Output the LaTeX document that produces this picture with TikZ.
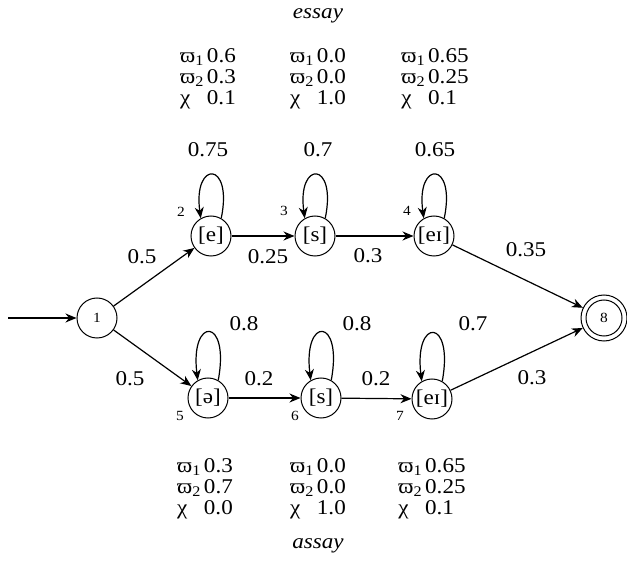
\documentclass[tikz,border=0pt]{standalone}
\usepackage{fontspec}
\setmainfont[FakeStretch=1.1]{Liberation Serif}
\usetikzlibrary{arrows.meta}
\begin{document}
\begin{tikzpicture}[x=1pt,y=-1pt,
  every node/.style={inner sep=0pt},
  st/.style={circle,draw,line width=1pt,minimum size=40pt,font=\fontsize{21}{22}\selectfont},
  lbl/.style={font=\fontsize{21}{22}\selectfont},
  num/.style={font=\fontsize{14}{15}\selectfont},
  edge/.style={line width=1.2pt,-{Stealth[length=11pt,width=9pt,inset=3.5pt]}},
  blk/.style={font=\fontsize{21}{21}\selectfont}
  ]
\useasboundingbox (0,0) rectangle (627,561);
% states
\node[st] (n1) at (97,318) {\fontsize{14}{15}\selectfont 1};
\node[st] (n2) at (211,236) {[e]};
\node[st] (n3) at (315,236) {[s]};
\node[st] (n4) at (434,236) {[eɪ]};
\node[st] (n5) at (208,398) {[ə]};
\node[st] (n6) at (321,398) {[s]};
\node[st] (n7) at (432,399) {[eɪ]};
\node[st,minimum size=46pt] (n8) at (604,318) {};
\node[circle,draw,line width=1pt,minimum size=36pt,num] (n8i) at (604,318) {8};
\coordinate (start) at (8,318);
% state numbers
\node[num] (l2) at (181,212) {2};
\node[num] (l3) at (284,211) {3};
\node[num] (l4) at (407,211) {4};
\node[num] (l5) at (180,416) {5};
\node[num] (l6) at (295,416) {6};
\node[num] (l7) at (400,416) {7};
% edges
\draw[edge] (start) -- (n1);
\draw[edge] (n1) -- (n2);
\draw[edge] (n1) -- (n5);
\draw[edge] (n2) -- (n3);
\draw[edge] (n3) -- (n4);
\draw[edge] (n5) -- (n6);
\draw[edge] (n6) -- (n7);
\draw[edge] (n4) -- (n8);
\draw[edge] (n7) -- (n8);
% loops
\foreach \n in {n2,n3,n4}{
  \draw[edge] (\n.60) .. controls +(12,-58) and +(-8,-58) .. (\n.120);
}
\foreach \n in {n5,n6,n7}{
  \draw[edge] (\n.60) .. controls +(12,-64) and +(-8,-64) .. (\n.120);
}
% edge labels
\node[lbl] (e12) at (142,257) {0.5};
\node[lbl] (e23) at (268,257) {0.25};
\node[lbl] (e34) at (368,256) {0.3};
\node[lbl] (e48) at (526,250) {0.35};
\node[lbl] (e15) at (130,379) {0.5};
\node[lbl] (e56) at (259,379) {0.2};
\node[lbl] (e67) at (376,379) {0.2};
\node[lbl] (e78) at (532,378) {0.3};
% loop labels
\node[lbl] (o2) at (208,150) {0.75};
\node[lbl] (o3) at (318,150) {0.7};
\node[lbl] (o4) at (435,150) {0.65};
\node[lbl] (o5) at (244,324) {0.8};
\node[lbl] (o6) at (357,324) {0.8};
\node[lbl] (o7) at (473,324) {0.7};
% emission tables
\node[blk] (b2) at (208,79) {\begin{tabular}{@{}l@{\hspace{3pt}}l@{}}ϖ\textsubscript{1}&0.6\\ϖ\textsubscript{2}&0.3\\χ&0.1\end{tabular}};
\node[blk] (b3) at (318,79) {\begin{tabular}{@{}l@{\hspace{3pt}}l@{}}ϖ\textsubscript{1}&0.0\\ϖ\textsubscript{2}&0.0\\χ&1.0\end{tabular}};
\node[blk] (b4) at (435,79) {\begin{tabular}{@{}l@{\hspace{3pt}}l@{}}ϖ\textsubscript{1}&0.65\\ϖ\textsubscript{2}&0.25\\χ&0.1\end{tabular}};
\node[blk] (b5) at (205,489) {\begin{tabular}{@{}l@{\hspace{3pt}}l@{}}ϖ\textsubscript{1}&0.3\\ϖ\textsubscript{2}&0.7\\χ&0.0\end{tabular}};
\node[blk] (b6) at (318,489) {\begin{tabular}{@{}l@{\hspace{3pt}}l@{}}ϖ\textsubscript{1}&0.0\\ϖ\textsubscript{2}&0.0\\χ&1.0\end{tabular}};
\node[blk] (b7) at (432,489) {\begin{tabular}{@{}l@{\hspace{3pt}}l@{}}ϖ\textsubscript{1}&0.65\\ϖ\textsubscript{2}&0.25\\χ&0.1\end{tabular}};
% words
\node[lbl,font=\fontsize{21}{22}\selectfont\itshape] (w1) at (318,16) {essay};
\node[lbl,font=\fontsize{21}{22}\selectfont\itshape] (w2) at (318,546) {assay};
\end{tikzpicture}
\end{document}
